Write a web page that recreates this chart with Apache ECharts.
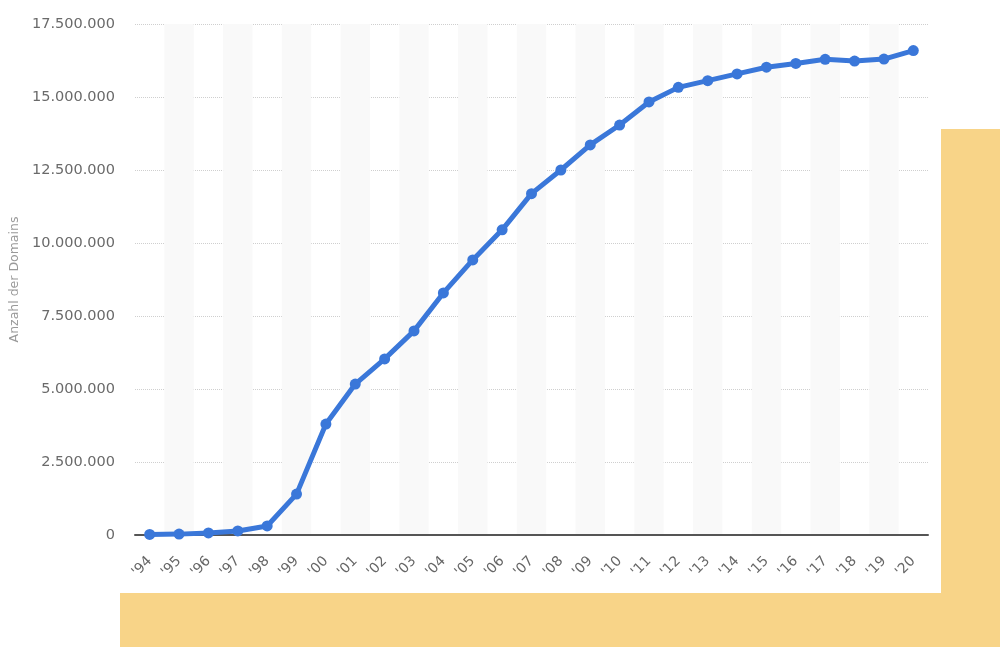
<!DOCTYPE html>
<html>
<head>
<meta charset="utf-8">
<script src="https://cdn.jsdelivr.net/npm/echarts@6/dist/echarts.min.js"></script>
<style>
  html, body { margin: 0; padding: 0; background: #fff; }
  #chart { width: 1000px; height: 647px; }
</style>
</head>
<body>
<div id="chart"></div>
<script>
const years = ["'94", "'95", "'96", "'97", "'98", "'99", "'00", "'01", "'02", "'03", "'04", "'05", "'06",
  "'07", "'08", "'09", "'10", "'11", "'12", "'13", "'14", "'15", "'16", "'17", "'18", "'19", "'20"];
const domains = [20000, 30000, 70000, 140000, 310000, 1400000, 3800000, 5170000, 6030000, 6990000,
  8290000, 9420000, 10450000, 11690000, 12500000, 13360000, 14040000, 14830000, 15330000, 15560000,
  15790000, 16020000, 16150000, 16290000, 16230000, 16300000, 16590000];
const yTicks = { min: 0, max: 17500000, step: 2500000 };

function fmt(v) {
  return String(v).replace(/\B(?=(\d{3})+(?!\d))/g, '.');
}

const chart = echarts.init(document.getElementById('chart'));
chart.setOption({
  animation: false,
  backgroundColor: 'transparent',
  graphic: [
    { type: 'rect', z: -10, shape: { x: 941, y: 129, width: 59, height: 518 }, style: { fill: '#f8d488' } },
    { type: 'rect', z: -10, shape: { x: 120, y: 593, width: 880, height: 54 }, style: { fill: '#f8d488' } },
  ],
  grid: {
    left: 135,
    right: 72,
    top: 24,
    bottom: 112,
    outerBoundsMode: 'none',
  },
  xAxis: {
    type: 'category',
    data: years,
    boundaryGap: true,
    axisLine: { lineStyle: { color: '#555', width: 2 } },
    axisTick: { show: false },
    axisLabel: {
      rotate: 45,
      margin: 24,
      color: '#666',
      fontSize: 14,
      fontFamily: 'DejaVu Sans',
    },
    splitArea: {
      show: true,
      areaStyle: { color: ['rgba(255,255,255,0)', '#f9f9f9'] },
    },
  },
  yAxis: {
    type: 'value',
    min: yTicks.min,
    max: yTicks.max,
    interval: yTicks.step,
    name: 'Anzahl der Domains',
    nameLocation: 'middle',
    nameGap: 113,
    nameTextStyle: { color: '#999', fontSize: 12.5, fontFamily: 'DejaVu Sans' },
    axisLine: { show: false },
    axisTick: { show: false },
    axisLabel: {
      margin: 20,
      color: '#6a6a6a',
      fontSize: 14.5,
      fontFamily: 'DejaVu Sans',
      formatter: fmt,
    },
    splitLine: { lineStyle: { color: '#cfcfcf', type: [1, 1], width: 1 } },
  },
  series: [{
    type: 'line',
    data: domains,
    symbol: 'circle',
    symbolSize: 11,
    itemStyle: { color: '#3a77d9' },
    lineStyle: { color: '#3a77d9', width: 5 },
  }],
});
</script>
</body>
</html>
